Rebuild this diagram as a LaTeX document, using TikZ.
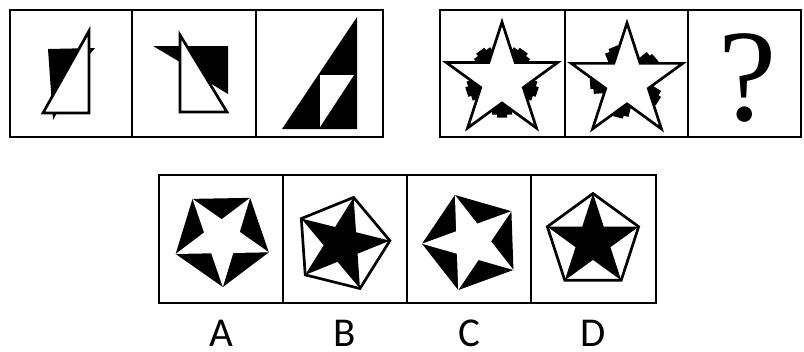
\documentclass[tikz,border=0pt]{standalone}
\usepackage{fontspec}
\usepackage{tikz}
\newfontfamily\qfont{Liberation Serif}
\newfontfamily\labfont{Carlito}
\newcommand{\pentapath}[2]{(#2:#1) \foreach \k in {1,...,4} {-- ({#2+72*\k}:#1)} -- cycle}
\newcommand{\starpath}[2]{(#2:#1) \foreach \k in {0,...,4} {-- ({#2+72*\k+36}:{0.382*#1}) -- ({#2+72*\k+72}:#1)} -- cycle}
\newcommand{\notchblob}{(18,-10) -- (34,-10) -- (34,-5) -- (37,-5) -- (37,5) -- (34,5) -- (34,10) -- (18,10) -- cycle}

\begin{document}
\begin{tikzpicture}[x=0.03cm,y=-0.03cm,
    boxline/.style={line width=1.7pt},
    thickline/.style={line width=2.3pt,line join=miter},
    lab/.style={inner sep=0pt,font=\labfont\fontsize{35}{35}\selectfont}]
  \useasboundingbox (0,0) rectangle (804,351);
  \fill[white] (0,0) rectangle (804,351);
  % top left row
  \draw[boxline] (10,10) rectangle (383,137);
  \draw[boxline] (132,10) -- (132,137) (256,10) -- (256,137);
  \fill (48,49) -- (95,48) -- (90,54) -- (53,120) -- cycle;
  \filldraw[fill=white,thickline] (89,31) -- (89,113) -- (43,113) -- cycle;
  \fill (153,46) -- (228,46) -- (228,94) -- (205,80) -- (180,62) -- cycle;
  \filldraw[fill=white,thickline] (180,35) -- (227,112) -- (180,112) -- cycle;
  \fill (357,17) -- (357,129) -- (282,129) -- cycle;
  \fill[white] (320,75) -- (354,75) -- (320,127) -- cycle;
  % top right row
  \draw[boxline] (440,10) rectangle (801,137);
  \draw[boxline] (565,10) -- (565,137) (688,10) -- (688,137);
  \foreach \a in {-54,18,90,162,234}
    \fill[shift={(502,80.6)},rotate={-(\a)}] \notchblob;
  \filldraw[fill=white,thickline,shift={(502,80.6)}] \starpath{58.6}{-90};
  \foreach \a in {-40,32,104,176,248}
    \fill[shift={(627,81.5)},rotate={-(\a)}] \notchblob;
  \filldraw[fill=white,thickline,shift={(627,81.5)}] \starpath{58.6}{-90};
  \node (qmark) at (748,78) {\qfont\fontsize{112}{112}\selectfont ?};
  % options
  \draw[boxline] (159,175) rectangle (656,303);
  \draw[boxline] (283,175) -- (283,303) (407,175) -- (407,303) (531,175) -- (531,303);
  \fill[shift={(222,238)}] \pentapath{49}{89};
  \fill[white,shift={(222,238)}] \starpath{49}{89};
  \filldraw[fill=white,thickline,shift={(342,244)}] \pentapath{48}{-4};
  \fill[shift={(342,244)}] \starpath{48}{-4};
  \fill[shift={(472,242)}] \pentapath{50}{178};
  \fill[white,shift={(472,242)}] \starpath{50}{178};
  \filldraw[fill=white,thickline,shift={(593,241.5)}] \pentapath{48}{-90};
  \fill[shift={(593,241.5)}] \starpath{48}{-90};
  \node[lab] (optA) at (221,333) {A};
  \node[lab] (optB) at (345,333) {B};
  \node[lab] (optC) at (469,333) {C};
  \node[lab] (optD) at (593,333) {D};
\end{tikzpicture}
\end{document}
